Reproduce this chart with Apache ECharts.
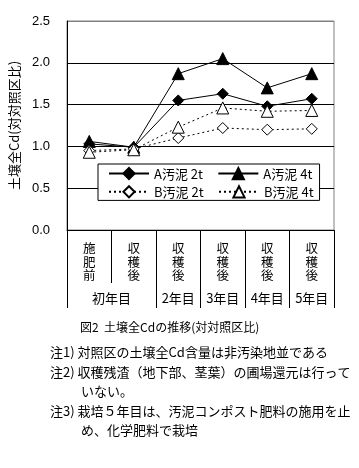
<!DOCTYPE html>
<html><head><meta charset="utf-8">
<script src="https://cdn.jsdelivr.net/npm/echarts@6/dist/echarts.min.js"></script>
<style>html,body{margin:0;padding:0;background:#fff}#c{width:359px;height:468px}</style>
</head><body><div id="c"></div>
<script>
const categories = ['施肥前','収穫後','収穫後','収穫後','収穫後','収穫後'];
const yearLabels = ['初年目','2年目','3年目','4年目','5年目'];
const yearLabelPos = [1, 2.5, 3.5, 4.5, 5.5];
const yearBounds = [0, 2, 3, 4, 5, 6];
const seriesNames = ['A汚泥 2t','A汚泥 4t','B汚泥 2t','B汚泥 4t'];
const a2t = [1.03, 0.99, 1.55, 1.63, 1.48, 1.57];
const a4t = [1.06, 0.99, 1.87, 2.05, 1.70, 1.87];
const b2t = [0.95, 0.97, 1.10, 1.22, 1.20, 1.21];
const b4t = [0.93, 0.96, 1.23, 1.46, 1.42, 1.43];
const titleText = '図2  土壌全Cdの推移(対対照区比)';
const notes = [
  '注1) 対照区の土壌全Cd含量は非汚染地並である',
  '注2) 収穫残渣（地下部、茎葉）の圃場還元は行って',
  'いない。',
  '注3) 栽培５年目は、汚泥コンポスト肥料の施用を止',
  'め、化学肥料で栽培'
];
const noteLeft = [50, 50, 81, 50, 81];
const noteTop = [346, 366, 385, 405, 424];

const FONT = '"Noto Sans CJK JP", sans-serif';
const chart = echarts.init(document.getElementById('c'), null, {renderer:'canvas'});
const mk = (name, data, symbol, size, filled, dotted) => ({
  name, type:'line', data, symbol, symbolSize: size,
  xAxisIndex:0, yAxisIndex:0,
  lineStyle:{color:'#000', width:1, type: dotted ? [2,3] : 'solid'},
  itemStyle:{color: filled ? '#000' : '#fff', borderColor:'#000', borderWidth:1},
  emphasis:{disabled:true}, animation:false
});
chart.setOption({
  animation:false,
  textStyle:{fontFamily:FONT, color:'#000'},
  grid:{left:65, right:25, top:21, bottom:238, show:true, borderColor:'#808080', borderWidth:1},
  title: [
    {text:titleText, left:80, top:321, textStyle:{fontFamily:FONT, fontSize:12, fontWeight:'normal', color:'#000'}, padding:0}
  ].concat(notes.map((t,i)=>({text:t, left:noteLeft[i], top:noteTop[i], padding:0,
      textStyle:{fontFamily:FONT, fontSize:13, fontWeight:'normal', color:'#000'}}))),
  legend:{
    left:98, top:164, width:226, orient:'horizontal',
    padding:[3,6,2,10], itemGap:5, itemWidth:40, itemHeight:14,
    backgroundColor:'#fff', borderColor:'#000', borderWidth:1,
    textStyle:{fontFamily:FONT, fontSize:13, color:'#000'},
    formatter: name => name.endsWith('2t') ? name + '\u2002 ' : name,
    data: seriesNames
  },
  xAxis:[
    {type:'category', data:categories, boundaryGap:true, gridIndex:0,
     axisLine:{lineStyle:{color:'#000'}},
     axisTick:{show:true, interval:0, length:53, lineStyle:{color:'#000'}},
     axisLabel:{interval:0, margin:12, fontSize:12.5, lineHeight:13.3, color:'#000', fontFamily:FONT,
       formatter:v=>v.split('').join('\n')},
     splitLine:{show:false}},
    {type:'value', min:0, max:6, gridIndex:0, position:'bottom',
     axisLine:{show:false},
     axisTick:{show:true, length:78, customValues:yearBounds, lineStyle:{color:'#000'}},
     axisLabel:{show:true, margin:62, fontSize:13, color:'#000', fontFamily:FONT, customValues:yearLabelPos,
       formatter:v=>{const i=yearLabelPos.indexOf(v); return i>=0?yearLabels[i]:'';}},
     splitLine:{show:false}}
  ],
  yAxis:{type:'value', min:0, max:2.5, interval:0.5,
    name:'土壌全Cd(対対照区比)', nameLocation:'middle', nameGap:46, nameRotate:90,
    nameTextStyle:{fontFamily:FONT, fontSize:13, color:'#000'},
    axisLine:{show:true, lineStyle:{color:'#000'}},
    axisTick:{show:false},
    axisLabel:{fontSize:13, color:'#000', margin:17, fontFamily:'"Liberation Sans", Arial, sans-serif',
      formatter:v=>v.toFixed(1)},
    splitLine:{show:true, lineStyle:{color:['#000','#000','#000','#000','#000','#808080'], width:1}}
  },
  series:[
    mk(seriesNames[0], a2t, 'diamond', 11, true, false),
    mk(seriesNames[1], a4t, 'triangle', 12, true, false),
    mk(seriesNames[2], b2t, 'diamond', 11, false, true),
    mk(seriesNames[3], b4t, 'triangle', 12, false, true)
  ]
});
</script></body></html>
